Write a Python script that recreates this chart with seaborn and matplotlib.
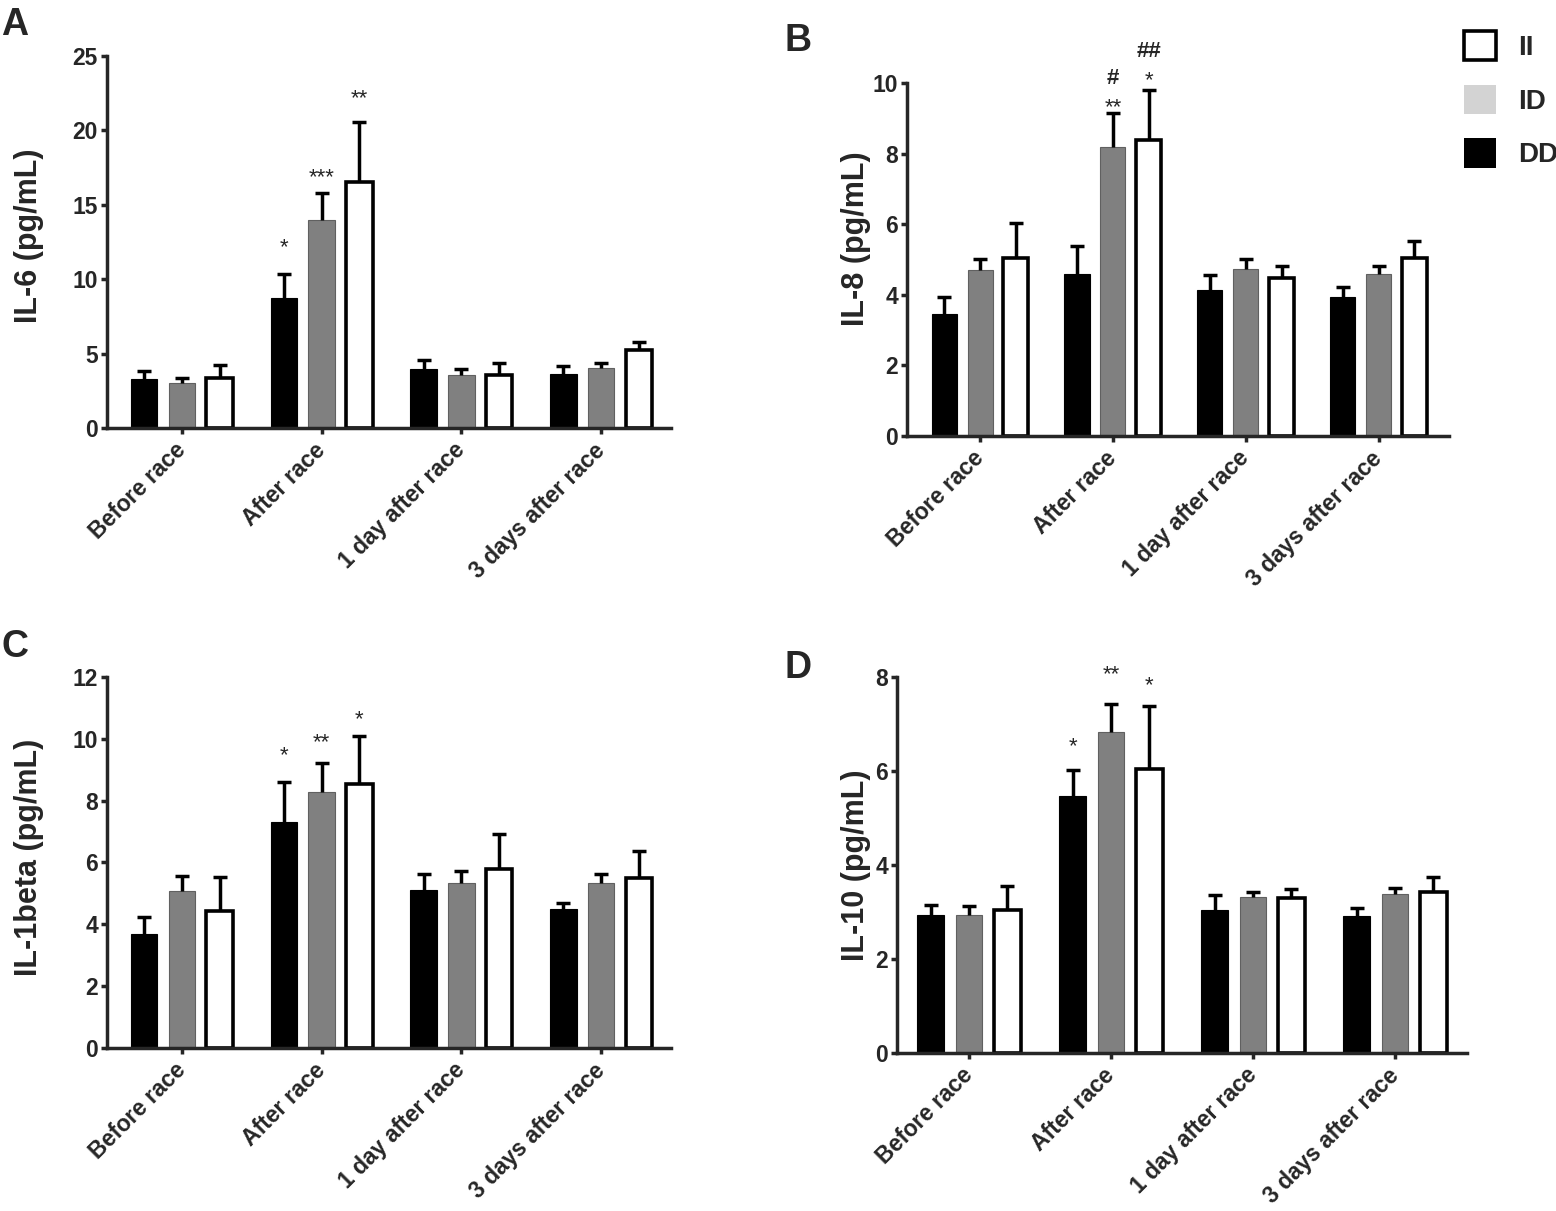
import matplotlib
matplotlib.use('Agg')
import numpy as np
import pandas as pd
import matplotlib.pyplot as plt
import matplotlib.patches as mpatches
import seaborn as sns

times = ['Before race', 'After race', '1 day after race', '3 days after race']
genotypes = ['DD', 'ID', 'II']

# means and SEM
il6_dd = [3.30, 8.74, 3.98, 3.64]
il6_id = [3.03, 13.99, 3.57, 4.03]
il6_ii = [3.35, 16.55, 3.53, 5.27]
il6_dd_err = [0.50, 1.62, 0.57, 0.52]
il6_id_err = [0.30, 1.80, 0.37, 0.34]
il6_ii_err = [0.88, 4.04, 0.81, 0.50]

il8_dd = [3.45, 4.59, 4.14, 3.93]
il8_id = [4.70, 8.18, 4.72, 4.59]
il8_ii = [5.04, 8.39, 4.47, 5.04]
il8_dd_err = [0.50, 0.80, 0.43, 0.30]
il8_id_err = [0.30, 0.97, 0.28, 0.23]
il8_ii_err = [0.99, 1.40, 0.35, 0.48]

il1b_dd = [3.68, 7.30, 5.12, 4.51]
il1b_id = [5.08, 8.29, 5.33, 5.33]
il1b_ii = [4.42, 8.54, 5.78, 5.50]
il1b_dd_err = [0.55, 1.30, 0.52, 0.18]
il1b_id_err = [0.49, 0.92, 0.40, 0.31]
il1b_ii_err = [1.10, 1.55, 1.14, 0.86]

il10_dd = [2.94, 5.46, 3.04, 2.91]
il10_id = [2.93, 6.84, 3.32, 3.38]
il10_ii = [3.04, 6.05, 3.29, 3.43]
il10_dd_err = [0.21, 0.57, 0.32, 0.17]
il10_id_err = [0.19, 0.59, 0.10, 0.14]
il10_ii_err = [0.52, 1.34, 0.19, 0.31]

# significance marks: (time index, genotype, y of glyph centre, text)
il6_marks = [(1, 'DD', 12.57, '*'), (1, 'ID', 17.3, '***'), (1, 'II', 22.6, '**')]
il8_marks = [(1, 'ID', 9.51, '**'), (1, 'ID', 10.2, '#'), (1, 'II', 10.26, '*'), (1, 'II', 10.95, '##')]
il1b_marks = [(1, 'DD', 9.7, '*'), (1, 'ID', 10.1, '**'), (1, 'II', 10.85, '*')]
il10_marks = [(1, 'DD', 6.67, '*'), (1, 'ID', 8.2, '**'), (1, 'II', 7.96, '*')]

panels = [
    dict(letter='A', label='IL-6 (pg/mL)', means=[il6_dd, il6_id, il6_ii],
         errs=[il6_dd_err, il6_id_err, il6_ii_err], marks=il6_marks, ymax=25, ystep=5,
         rect=[0.06877, 0.64657, 0.36247, 0.30718], xlim=(-0.536, 3.5),
         lab=(-0.112, 0.516), let=(0.001, 0.994)),
    dict(letter='B', label='IL-8 (pg/mL)', means=[il8_dd, il8_id, il8_ii],
         errs=[il8_dd_err, il8_id_err, il8_ii_err], marks=il8_marks, ymax=10, ystep=2,
         rect=[0.58290, 0.63997, 0.34833, 0.29150], xlim=(-0.55, 3.53),
         lab=(-0.066, 0.56), let=(0.504, 0.981)),
    dict(letter='C', label='IL-1beta (pg/mL)', means=[il1b_dd, il1b_id, il1b_ii],
         errs=[il1b_dd_err, il1b_id_err, il1b_ii_err], marks=il1b_marks, ymax=12, ystep=2,
         rect=[0.06877, 0.13460, 0.36247, 0.30636], xlim=(-0.536, 3.5),
         lab=(-0.112, 0.513), let=(0.001, 0.481)),
    dict(letter='D', label='IL-10 (pg/mL)', means=[il10_dd, il10_id, il10_ii],
         errs=[il10_dd_err, il10_id_err, il10_ii_err], marks=il10_marks, ymax=8, ystep=2,
         rect=[0.57648, 0.13047, 0.36632, 0.31049], xlim=(-0.507, 3.507),
         lab=(-0.046, 0.5), let=(0.504, 0.463)),
]

colors = {'DD': 'black', 'ID': '#808080', 'II': 'white'}

sns.set_style('ticks')
plt.rcParams['font.family'] = ['Liberation Sans', 'DejaVu Sans']
plt.rcParams['font.weight'] = 'bold'

LW = 2.5
fig = plt.figure(figsize=(15.56, 12.11), dpi=100)

for p in panels:
    ax = fig.add_axes(p['rect'])
    rows = []
    for g, vals in zip(genotypes, p['means']):
        for t, v in zip(times, vals):
            rows.append({'time': t, 'genotype': g, 'value': v})
    df = pd.DataFrame(rows)
    sns.barplot(data=df, x='time', y='value', hue='genotype', order=times,
                hue_order=genotypes, palette=colors, width=0.81, gap=0.3,
                errorbar=None, legend=False, ax=ax)

    bar_x = {}
    for g, cont, err in zip(genotypes, ax.containers, p['errs']):
        xs, hs = [], []
        for patch in cont:
            if g == 'II':
                patch.set_edgecolor('black')
                patch.set_linewidth(2.6)
            else:
                patch.set_edgecolor('#606060' if g == 'ID' else 'black')
                patch.set_linewidth(0.8)
            xs.append(patch.get_x() + patch.get_width() / 2)
            hs.append(patch.get_height())
        bar_x[g] = xs
        eb = ax.errorbar(xs, hs, yerr=[np.zeros(len(err)), err], fmt='none',
                         ecolor='black', elinewidth=LW, capsize=5, capthick=LW, zorder=5)
        # upper error only: hide the cap that sits on the bar top
        for cap in eb[1]:
            if np.allclose(cap.get_ydata(), hs):
                cap.set_visible(False)

    for ti, g, y, txt in p['marks']:
        fs = 16
        if '#' in txt:
            off = -0.36 * fs
            fw = 'bold'
        else:
            off = -0.57 * fs
            fw = 'normal'
        ax.annotate(txt, xy=(bar_x[g][ti], y), xytext=(0, off), textcoords='offset points',
                    ha='center', va='baseline', fontsize=fs, fontweight=fw,
                    annotation_clip=False)

    ax.set_xlim(*p['xlim'])
    ax.set_ylim(0, p['ymax'])
    ax.set_yticks(np.arange(0, p['ymax'] + 0.1, p['ystep']))
    ax.set_xlabel('')
    ax.set_ylabel(p['label'], fontsize=22, fontweight='bold')
    ax.yaxis.set_label_coords(*p['lab'])
    sns.despine(ax=ax)
    for s in ['left', 'bottom']:
        ax.spines[s].set_linewidth(LW)
    ax.tick_params(axis='both', width=LW, length=4.5, direction='out', pad=2)
    ax.tick_params(axis='y', labelsize=16.5)
    for lbl in ax.get_yticklabels():
        lbl.set_fontweight('bold')
    ax.set_xticks(range(len(times)))
    ax.set_xticklabels(times, rotation=45, ha='right', va='center',
                       rotation_mode='anchor', fontsize=16.5, fontweight='bold')
    ax.tick_params(axis='x', pad=9)
    fig.text(p['let'][0], p['let'][1], p['letter'], fontsize=27, fontweight='bold',
             ha='left', va='top')

handles = [mpatches.Patch(facecolor='white', edgecolor='black', linewidth=2.6, label='II'),
           mpatches.Patch(facecolor='#d3d3d3', edgecolor='none', label='ID'),
           mpatches.Patch(facecolor='black', edgecolor='none', label='DD')]
fig.legend(handles=handles, loc='upper left', bbox_to_anchor=(1464 / 1556, 1 - 31 / 1211),
           frameon=False, handlelength=1.15, handleheight=1.25,
           handletextpad=0.8, labelspacing=0.85, borderpad=0, borderaxespad=0,
           prop={'weight': 'bold', 'size': 20})

fig.savefig('out.png', dpi=100)
